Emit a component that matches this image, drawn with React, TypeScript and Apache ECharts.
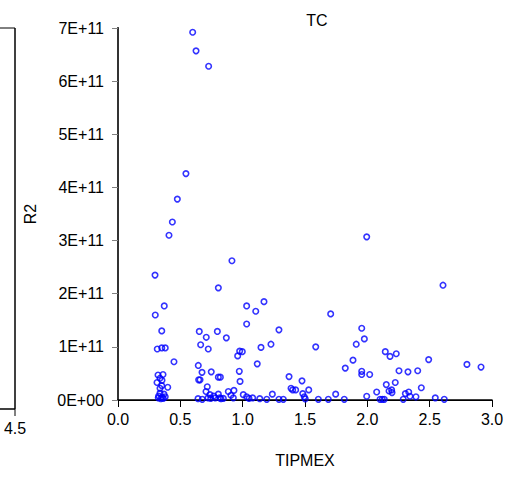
import React, { useEffect, useRef } from "react";
import * as echarts from "echarts";

const TITLE = "TC";
const X_NAME = "TIPMEX";
const Y_NAME = "R2";
const X_TICKS = [0, 0.5, 1, 1.5, 2, 2.5, 3];
const Y_MAX = 7e11;
const Y_STEP = 1e11;
const LEFT_PANEL_TICK_LABEL = "4.5";

// TIPMEX values
const tipmex = [
  0.599, 0.626, 0.727, 0.545, 0.476, 0.436, 0.409, 0.914, 0.297, 0.805, 1.995, 2.607,
  0.371, 0.299, 1.032, 1.171, 1.105, 1.032, 1.291, 0.351, 0.652, 0.797, 0.708, 0.869, 0.663, 1.227, 1.147, 0.315, 0.351, 0.379,
  0.724, 0.976, 0.997, 0.96, 0.449, 1.117, 0.644, 0.973, 0.674, 0.748, 0.321, 0.361, 1.372, 0.805, 0.821, 0.337, 0.313, 0.353,
  0.647, 0.658, 0.979, 0.716, 1.476, 0.399, 0.337, 0.351, 1.388, 1.401, 1.425, 1.53, 0.706, 0.885, 0.93, 0.906, 0.738, 0.805,
  1.005, 1.482, 0.337, 0.369, 0.326, 0.355, 0.379, 0.323, 0.343, 0.363, 0.642, 0.676, 0.722, 0.744, 0.768, 0.78, 0.816, 0.826,
  0.845, 0.925, 1.032, 1.051, 1.08, 1.137, 1.193, 1.238, 1.291, 1.326, 1.494, 1.502,
  1.706, 1.955, 1.976, 1.911, 1.586, 2.144, 2.232, 2.182, 1.885, 2.492, 2.799, 2.912, 1.823, 1.955, 1.955, 2.019, 2.254, 2.326,
  2.404, 2.224, 2.152, 2.433, 2.174, 2.195, 2.198, 2.075, 2.305, 2.332, 1.746, 2.342, 2.39, 1.995, 2.545, 1.607, 1.687, 1.815,
  2.102, 2.12, 2.136, 2.288, 2.617,
];

// R2 values, in units of 1E+11
const r2E11 = [
  6.92, 6.57, 6.28, 4.26, 3.78, 3.35, 3.1, 2.62, 2.35, 2.11, 3.07, 2.16,
  1.77, 1.6, 1.77, 1.85, 1.67, 1.43, 1.32, 1.3, 1.29, 1.29, 1.18, 1.17, 1.04, 1.05, 0.99, 0.96, 0.98, 0.98,
  0.96, 0.92, 0.91, 0.83, 0.72, 0.68, 0.65, 0.54, 0.52, 0.53, 0.47, 0.48, 0.44, 0.43, 0.43, 0.41, 0.33, 0.37,
  0.38, 0.38, 0.35, 0.25, 0.36, 0.24, 0.22, 0.27, 0.22, 0.19, 0.19, 0.19, 0.16, 0.16, 0.18, 0.09, 0.1, 0.11,
  0.1, 0.12, 0.13, 0.11, 0.075, 0.05, 0.06, 0.04, 0.025, 0.03, 0.025, 0.013, 0.04, 0.03, 0.075, 0.04, 0.04, 0.025,
  0.03, 0.04, 0.06, 0.03, 0.04, 0.025, 0.013, 0.11, 0.013, 0.013, 0.06, 0.02,
  1.62, 1.35, 1.15, 1.05, 1.0, 0.91, 0.87, 0.82, 0.75, 0.76, 0.67, 0.62, 0.6, 0.54, 0.48, 0.48, 0.55, 0.53,
  0.55, 0.33, 0.29, 0.23, 0.17, 0.19, 0.14, 0.15, 0.12, 0.15, 0.11, 0.07, 0.06, 0.07, 0.04, 0.013, 0.013, 0.013,
  0.013, 0.013, 0.013, 0.013, 0.013,
];

const FONT = "Liberation Sans, Arial, sans-serif";

export default function App() {
  const ref = useRef<HTMLDivElement>(null);

  useEffect(() => {
    if (!ref.current) return;
    const chart = echarts.init(ref.current, null, { renderer: "svg" });
    const data = tipmex.map((x, i) => [x, r2E11[i] * 1e11]);

    chart.setOption({
      animation: false,
      backgroundColor: "#ffffff",
      textStyle: { fontFamily: FONT },
      title: {
        text: TITLE,
        left: 312,
        top: 7,
        textAlign: "center",
        textStyle: { fontSize: 16, fontWeight: "normal", color: "#000", fontFamily: FONT },
      },
      grid: { left: 118, top: 28, right: 30, bottom: 87, show: false },
      xAxis: [
        {
          type: "value",
          min: 0,
          max: 3,
          interval: 0.5,
          name: X_NAME,
          nameLocation: "middle",
          nameGap: 52,
          nameTextStyle: { fontSize: 16, color: "#000", fontFamily: FONT },
          axisLine: { show: true, onZero: false, lineStyle: { color: "#000", width: 1.5 } },
          axisTick: { show: true, inside: false, length: 7, lineStyle: { color: "#000", width: 1 } },
          axisLabel: {
            fontSize: 16,
            color: "#000",
            margin: 11,
            fontFamily: FONT,
            formatter: (v: number) => (X_TICKS.includes(v) ? v.toFixed(1) : ""),
          },
          splitLine: { show: false },
        },
        {
          type: "value",
          position: "top",
          min: 0,
          max: 3,
          axisLine: { show: true, lineStyle: { color: "#000", width: 1 } },
          axisTick: { show: false },
          axisLabel: { show: false },
          splitLine: { show: false },
        },
      ],
      yAxis: [
        {
          type: "value",
          min: 0,
          max: Y_MAX,
          interval: Y_STEP,
          name: Y_NAME,
          nameLocation: "middle",
          nameGap: 80,
          nameRotate: 90,
          nameTextStyle: { fontSize: 16, color: "#000", fontFamily: FONT },
          axisLine: { show: true, onZero: false, lineStyle: { color: "#000", width: 1.5 } },
          axisTick: { show: true, inside: false, length: 6, lineStyle: { color: "#808080", width: 1 } },
          axisLabel: {
            fontSize: 16,
            color: "#000",
            margin: 14,
            fontFamily: FONT,
            formatter: (v: number) =>
              v === 0 ? "0E+00" : `${Math.round(v / 1e11)}E+11`,
          },
          splitLine: { show: false },
        },
        {
          type: "value",
          position: "right",
          min: 0,
          max: Y_MAX,
          axisLine: { show: true, lineStyle: { color: "#333", width: 2 } },
          axisTick: { show: false },
          axisLabel: { show: false },
          splitLine: { show: false },
        },
      ],
      series: [
        {
          type: "scatter",
          xAxisIndex: 0,
          yAxisIndex: 0,
          data,
          symbol: "circle",
          symbolSize: 5.5,
          itemStyle: { color: "rgba(255,255,255,0)", borderColor: "#0000ff", borderWidth: 1.6 },
        },
      ],
      graphic: [
        { type: "line", shape: { x1: 15, y1: 28, x2: 15, y2: 409 }, style: { stroke: "#000", lineWidth: 1.5 } },
        { type: "line", shape: { x1: 0, y1: 28, x2: 15, y2: 28 }, style: { stroke: "#000", lineWidth: 1 } },
        { type: "line", shape: { x1: 0, y1: 409, x2: 15, y2: 409 }, style: { stroke: "#000", lineWidth: 1.5 } },
        { type: "line", shape: { x1: 15, y1: 409, x2: 15, y2: 416 }, style: { stroke: "#000", lineWidth: 1 } },
        {
          type: "text",
          x: 15,
          y: 428,
          style: {
            text: LEFT_PANEL_TICK_LABEL,
            fontSize: 16,
            fill: "#000",
            fontFamily: FONT,
            align: "center",
            verticalAlign: "middle",
          },
        },
      ],
    });

    return () => chart.dispose();
  }, []);

  return (
    <div
      ref={ref}
      style={{ position: "fixed", left: 0, top: 0, width: 522, height: 487, background: "#fff" }}
    />
  );
}
